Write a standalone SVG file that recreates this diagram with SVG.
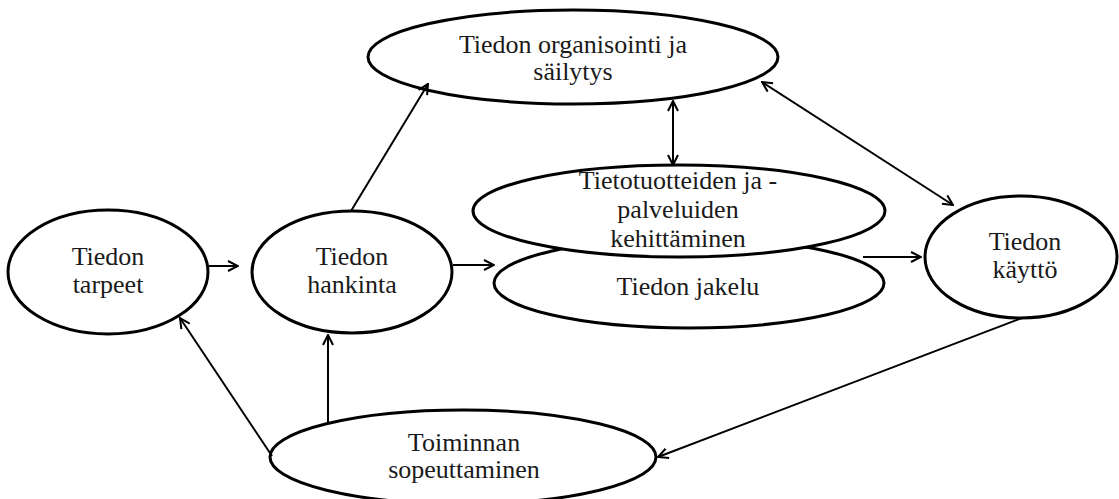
<svg xmlns="http://www.w3.org/2000/svg" width="1119" height="499" viewBox="0 0 1119 499">
<style>
.node{fill:#fff;stroke:#000;stroke-width:3}
.lbl{font-family:"Liberation Serif","Times New Roman",serif;font-size:26px;fill:#1a1a1a;text-anchor:middle}
.con{stroke:#000;stroke-width:2;fill:none}
</style>
<defs>
<marker id="ah" viewBox="0 0 12 12" refX="11" refY="6" markerWidth="12" markerHeight="12" markerUnits="userSpaceOnUse" orient="auto-start-reverse">
<path d="M1,1 L11,6 L1,11" fill="none" stroke="#000" stroke-width="2"/>
</marker>
</defs>
<rect width="1119" height="499" fill="#fff"/>
<g id="organisointi">
<ellipse class="node" cx="573" cy="57" rx="205" ry="47"/>
<text class="lbl" x="573" y="53">Tiedon organisointi ja</text>
<text class="lbl" x="573" y="80">säilytys</text>
</g>
<g id="jakelu">
<ellipse class="node" cx="689" cy="283" rx="195" ry="45"/>
<text class="lbl" x="688" y="295">Tiedon jakelu</text>
</g>
<g id="tietotuotteet">
<ellipse class="node" cx="679" cy="211" rx="206" ry="46"/>
<text class="lbl" x="678" y="189">Tietotuotteiden ja -</text>
<text class="lbl" x="678" y="218">palveluiden</text>
<text class="lbl" x="678" y="247">kehittäminen</text>
</g>
<g id="tarpeet">
<ellipse class="node" cx="108" cy="272" rx="100" ry="62"/>
<text class="lbl" x="108" y="265">Tiedon</text>
<text class="lbl" x="108" y="293">tarpeet</text>
</g>
<g id="hankinta">
<ellipse class="node" cx="352" cy="272" rx="100" ry="61"/>
<text class="lbl" x="352" y="265">Tiedon</text>
<text class="lbl" x="352" y="293">hankinta</text>
</g>
<g id="kaytto">
<ellipse class="node" cx="1021" cy="257" rx="96" ry="61"/>
<text class="lbl" x="1025" y="250">Tiedon</text>
<text class="lbl" x="1025" y="278">käyttö</text>
</g>
<g id="sopeuttaminen">
<ellipse class="node" cx="463" cy="457" rx="193" ry="47"/>
<text class="lbl" x="464" y="451">Toiminnan</text>
<text class="lbl" x="464" y="478">sopeuttaminen</text>
</g>
<g id="connectors">
<path class="con" d="M209,266 L238,266" marker-end="url(#ah)"/>
<path class="con" d="M453,265 L494,265" marker-end="url(#ah)"/>
<path class="con" d="M863,257 L921,257" marker-end="url(#ah)"/>
<path class="con" d="M351,211 L428,84" marker-end="url(#ah)"/>
<path class="con" d="M673,101 L673,165" marker-start="url(#ah)" marker-end="url(#ah)"/>
<path class="con" d="M762,82 L953,205" marker-start="url(#ah)" marker-end="url(#ah)"/>
<path class="con" d="M272,456 L180,318" marker-end="url(#ah)"/>
<path class="con" d="M328,422 L328,335" marker-end="url(#ah)"/>
<path class="con" d="M1022,318 L658,457" marker-end="url(#ah)"/>
</g>
</svg>
